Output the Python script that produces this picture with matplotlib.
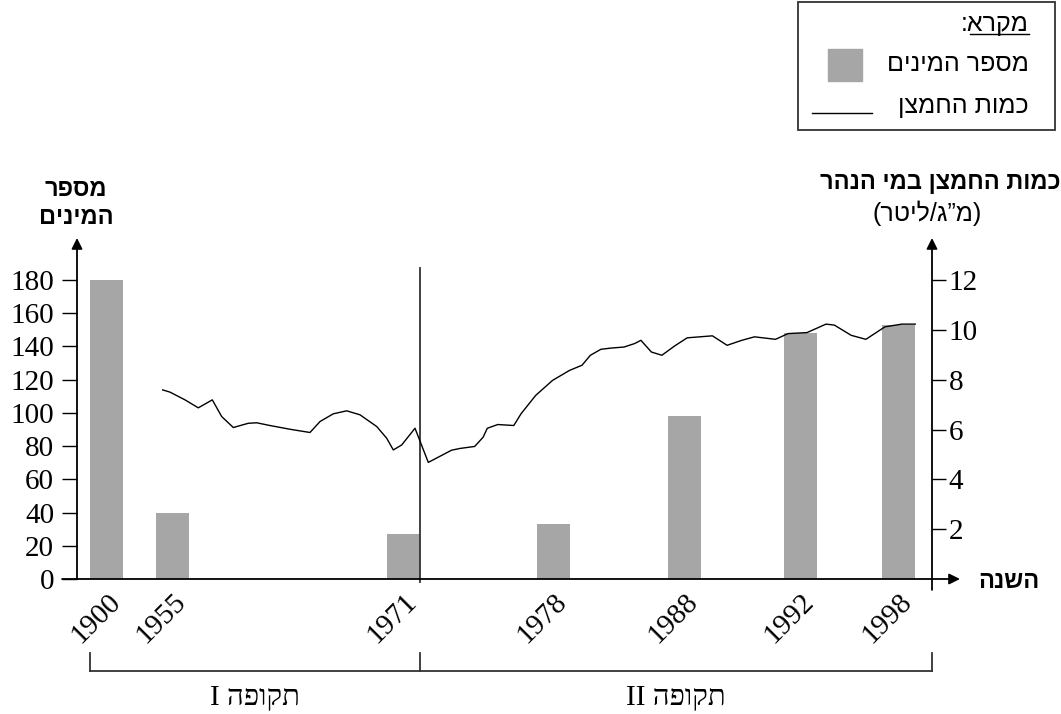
import numpy as np
import matplotlib
matplotlib.use("Agg")
import matplotlib.pyplot as plt
import matplotlib.transforms as mtransforms
from matplotlib.patches import Rectangle
from matplotlib.lines import Line2D

def rtl(s):
    # matplotlib has no bidi support: reverse hebrew so it reads right-to-left
    return s[::-1].translate(str.maketrans('()', ')('))

#%% data
years = ['1900', '1955', '1971', '1978', '1988', '1992', '1998']
year_pos = [29.5, 95, 326, 476.4, 607.5, 723, 821.5]  # axis is not linear in years
species = [180, 40, 27, 33, 98, 148, 153]  # number of species

# dissolved oxygen (mg/l), position on the same axis
oxy_pos = [85.7, 93, 108, 121.3, 135.3, 144.7, 156.3, 171.3, 179.7, 193, 213, 233,
           243, 256.3, 269.7, 283, 299.7, 309.7, 316.3, 324.7, 338, 351.3, 374.6,
           383, 397.7, 406.1, 410.3, 420.8, 436.8, 444, 458.7, 475.5, 492.4, 505,
           513.4, 523.9, 534.4, 547, 557.6, 563.9, 574.4, 584.9, 597.5, 610.2,
           622.8, 635.4, 650.1, 664.8, 677.5, 698.5, 711.1, 730, 749, 757.4,
           774.2, 788.9, 807.9, 824.7, 838.2]
oxygen = [7.59, 7.50, 7.19, 6.87, 7.19, 6.52, 6.08, 6.25, 6.27, 6.16, 6.01, 5.88,
          6.32, 6.63, 6.75, 6.59, 6.12, 5.65, 5.18, 5.38, 6.05, 4.68, 5.17,
          5.24, 5.32, 5.69, 6.05, 6.20, 6.16, 6.63, 7.37, 7.97, 8.37, 8.58,
          8.98, 9.22, 9.27, 9.31, 9.45, 9.58, 9.11, 8.98, 9.35, 9.68,
          9.72, 9.76, 9.38, 9.58, 9.72, 9.62, 9.85, 9.89, 10.23, 10.19,
          9.78, 9.62, 10.12, 10.23, 10.23]

left_ticks = np.arange(0, 181, 20)
right_ticks = np.arange(2, 13, 2)
periods = ['תקופה I', 'תקופה II']

serif = ['Liberation Serif', 'DejaVu Sans']
sans = ['Liberation Sans', 'DejaVu Sans']
bar_col = '#a6a6a6'
bar_w = 33

#%% figure
fig = plt.figure(figsize=(10.61, 7.14), dpi=100)
ax = fig.add_axes([77/1061, 135/714, 855/1061, 341/714])
ax2 = ax.twinx()

ax.bar(year_pos, species, width=bar_w, color=bar_col, zorder=2)
ax2.plot(oxy_pos, oxygen, color='k', lw=1.0)

ax.set_xlim(0, 855)
ax.set_ylim(0, 205.3)
ax2.set_ylim(0, 205.3 / 15)

for a in (ax, ax2):
    for sp in a.spines.values():
        sp.set_visible(False)

ax.set_yticks(left_ticks)
ax.set_yticklabels([str(v) for v in left_ticks], family=serif, fontsize=21)
ax.tick_params(axis='y', direction='out', length=10.5, width=1, pad=6)
ax2.set_yticks(right_ticks)
ax2.set_yticklabels([str(v) for v in right_ticks], family=serif, fontsize=21)
ax2.tick_params(axis='y', direction='out', length=10, width=1, pad=2)

ax.set_xticks(year_pos)
ax.set_xticklabels(years, family=serif, fontsize=21, rotation=45, ha='right', va='top')
ax.tick_params(axis='x', length=0, pad=7)
shift = mtransforms.ScaledTranslation(19/100, 0, fig.dpi_scale_trans)
for lab in ax.get_xticklabels():
    lab.set_transform(lab.get_transform() + shift)

# axes drawn as arrows
arw = dict(arrowstyle='-|>', color='k', lw=1.3, mutation_scale=16, shrinkA=0, shrinkB=0)
ax.annotate('', xy=(0, 1), xytext=(0, 0), xycoords='axes fraction', arrowprops=arw)
ax.annotate('', xy=(1, 1), xytext=(1, -0.032), xycoords='axes fraction', arrowprops=arw)
ax.annotate('', xy=(1.0327, 0), xytext=(-0.0175, 0), xycoords='axes fraction', arrowprops=arw)

# period divider and brackets
trans = mtransforms.blended_transform_factory(ax.transData, ax.transAxes)
split = year_pos[2] + bar_w / 2
ax.plot([split, split], [-0.009, 0.912], color='#333333', lw=1.3, transform=trans, clip_on=False)
left_end, right_end = year_pos[0] - bar_w / 2, 855
yb, yt = -0.2698, -0.217
ax.plot([left_end, right_end], [yb, yb], color='#333333', lw=1.3, transform=trans, clip_on=False)
for xv in (left_end, split, right_end):
    ax.plot([xv, xv], [yb, yt], color='#333333', lw=1.3, transform=trans, clip_on=False)
ax.text((left_end + split) / 2, -0.349, rtl(periods[0]), transform=trans, ha='center',
        va='center', family=serif, fontsize=21)
ax.text((split + right_end) / 2, -0.349, rtl(periods[1]), transform=trans, ha='center',
        va='center', family=serif, fontsize=21)

# axis titles (figure pixels)
def ftext(x, y, s, **kw):
    return fig.text(x / 1061, 1 - y / 714, s, **kw)

ftext(76, 189, rtl('מספר'), ha='center', va='center', family=sans, fontsize=17, weight='bold')
ftext(76, 217, rtl('המינים'), ha='center', va='center', family=sans, fontsize=17, weight='bold')
ftext(1061, 183, rtl('כמות החמצן במי הנהר'), ha='right', va='center', family=sans,
      fontsize=17, weight='bold')
ftext(927, 213, rtl('(מ”ג/ליטר)'), ha='center', va='center', family=sans, fontsize=18)
ftext(978, 581, rtl('השנה'), ha='left', va='center', family=sans, fontsize=17, weight='bold')

# legend box
fig.patches.append(Rectangle((798/1061, 1 - 130/714), 257/1061, 128/714, transform=fig.transFigure,
                             fill=False, ec='#333333', lw=1.3))
t = ftext(1029, 24, rtl('מקרא:'), ha='right', va='center', family=sans, fontsize=18)
ftext(1029, 64, rtl('מספר המינים'), ha='right', va='center', family=sans, fontsize=18)
ftext(1029, 106, rtl('כמות החמצן'), ha='right', va='center', family=sans, fontsize=18)
fig.patches.append(Rectangle((828/1061, 1 - 81/714), 34/1061, 32/714, transform=fig.transFigure,
                             color=bar_col))
fig.lines.append(Line2D([812/1061, 872/1061], [1 - 113/714, 1 - 113/714], transform=fig.transFigure,
                        color='k', lw=1.0))
fig.canvas.draw()
bb = t.get_window_extent()
fig.lines.append(Line2D([bb.x0 / 1061 + 0.008, bb.x1 / 1061], [1 - 34/714, 1 - 34/714],
                        transform=fig.transFigure, color='k', lw=1.0))

fig.savefig('out.png', dpi=100)
